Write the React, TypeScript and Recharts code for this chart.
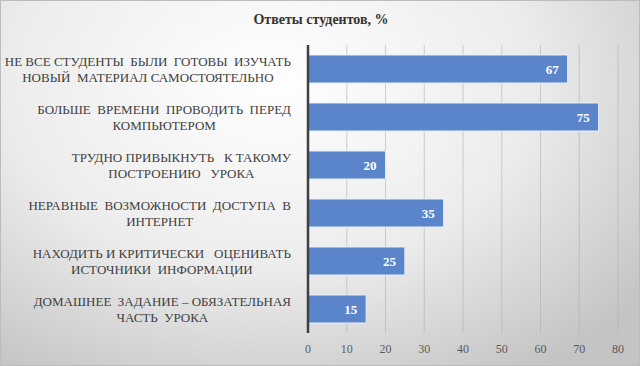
import { BarChart, Bar, XAxis, YAxis, CartesianGrid, LabelList } from "recharts";

const categories = [
  ["НЕ ВСЕ СТУДЕНТЫ  БЫЛИ  ГОТОВЫ  ИЗУЧАТЬ", "НОВЫЙ  МАТЕРИАЛ САМОСТОЯТЕЛЬНО"],
  ["БОЛЬШЕ  ВРЕМЕНИ  ПРОВОДИТЬ  ПЕРЕД", "КОМПЬЮТЕРОМ"],
  ["ТРУДНО ПРИВЫКНУТЬ   К ТАКОМУ", "ПОСТРОЕНИЮ   УРОКА"],
  ["НЕРАВНЫЕ  ВОЗМОЖНОСТИ  ДОСТУПА  В", "ИНТЕРНЕТ"],
  ["НАХОДИТЬ И КРИТИЧЕСКИ   ОЦЕНИВАТЬ", "ИСТОЧНИКИ  ИНФОРМАЦИИ"],
  ["ДОМАШНЕЕ  ЗАДАНИЕ – ОБЯЗАТЕЛЬНАЯ", "ЧАСТЬ  УРОКА"],
];
const values = [67, 75, 20, 35, 25, 15];
const xTicks = [0, 10, 20, 30, 40, 50, 60, 70, 80];

const data = categories.map((lines, i) => ({ name: lines.join("\n"), value: values[i] }));

const SERIF = '"Liberation Serif", "Times New Roman", serif';
const LABEL_SIZE = 13;

let ctx: CanvasRenderingContext2D | null = null;
function textWidth(s: string) {
  if (!ctx) ctx = document.createElement("canvas").getContext("2d");
  if (!ctx) return s.length * 7;
  ctx.font = `${LABEL_SIZE}px ${SERIF}`;
  return ctx.measureText(s).width;
}

function CategoryTick({ x, y, payload }: any) {
  const lines: string[] = String(payload.value).split("\n");
  const w = Math.max(...lines.map(textWidth));
  const cx = x - 9 - w / 2;
  return (
    <g>
      {lines.map((l, i) => (
        <text
          key={i}
          x={cx}
          y={y + (i - (lines.length - 1) / 2) * 16}
          dy={4.5}
          textAnchor="middle"
          fill="#404040"
          fontFamily="Liberation Serif"
          fontSize={LABEL_SIZE}
          xmlSpace="preserve"
          style={{ whiteSpace: "pre" }}
        >
          {l}
        </text>
      ))}
    </g>
  );
}

function ValueLabel({ x, y, width, height, value }: any) {
  return (
    <text
      x={x + width - 9}
      y={y + height / 2}
      dy={4.5}
      textAnchor="end"
      fill="#ffffff"
      fontFamily="Liberation Serif"
      fontSize={13}
      fontWeight="bold"
    >
      {value}
    </text>
  );
}

function XTick({ x, y, payload }: any) {
  return (
    <text
      x={x}
      y={y}
      dy={10}
      textAnchor="middle"
      fill="#595959"
      fontFamily="Liberation Serif"
      fontSize={12}
    >
      {payload.value}
    </text>
  );
}

export default function App() {
  return (
    <div
      style={{
        position: "absolute",
        left: 0,
        top: 0,
        width: 640,
        height: 366,
        boxSizing: "border-box",
        border: "1px solid #bcbcbc",
        fontFamily: SERIF,
        background:
          "radial-gradient(ellipse 75% 95% at 42% 22%, #ffffff 0%, #ececec 55%, #c4c4c4 100%)",
      }}
    >
      <div
        style={{
          position: "absolute",
          left: 0,
          top: 11,
          width: 640,
          textAlign: "center",
          fontWeight: "bold",
          fontSize: 14,
          color: "#333333",
        }}
      >
        Ответы студентов, %
      </div>
      <div style={{ position: "absolute", left: -1, top: -1 }}>
        <BarChart
          width={640}
          height={366}
          data={data}
          layout="vertical"
          margin={{ top: 45, right: 22, bottom: 8, left: 0 }}
          barSize={28}
        >
          <CartesianGrid horizontal={false} stroke="#b0b0b0" strokeOpacity={0.6} />
          <XAxis
            type="number"
            domain={[0, 80]}
            ticks={xTicks}
            axisLine={false}
            tickLine={false}
            height={25}
            tick={<XTick />}
            tickMargin={4}
          />
          <YAxis
            type="category"
            dataKey="name"
            width={308}
            axisLine={{ stroke: "#404040", strokeWidth: 2.5 }}
            tickLine={false}
            tick={<CategoryTick />}
            interval={0}
          />
          <Bar
            dataKey="value"
            fill="#5b85ca"
            stroke="#e8eef8"
            strokeWidth={1}
            isAnimationActive={false}
          >
            <LabelList dataKey="value" content={<ValueLabel />} />
          </Bar>
        </BarChart>
      </div>
    </div>
  );
}
